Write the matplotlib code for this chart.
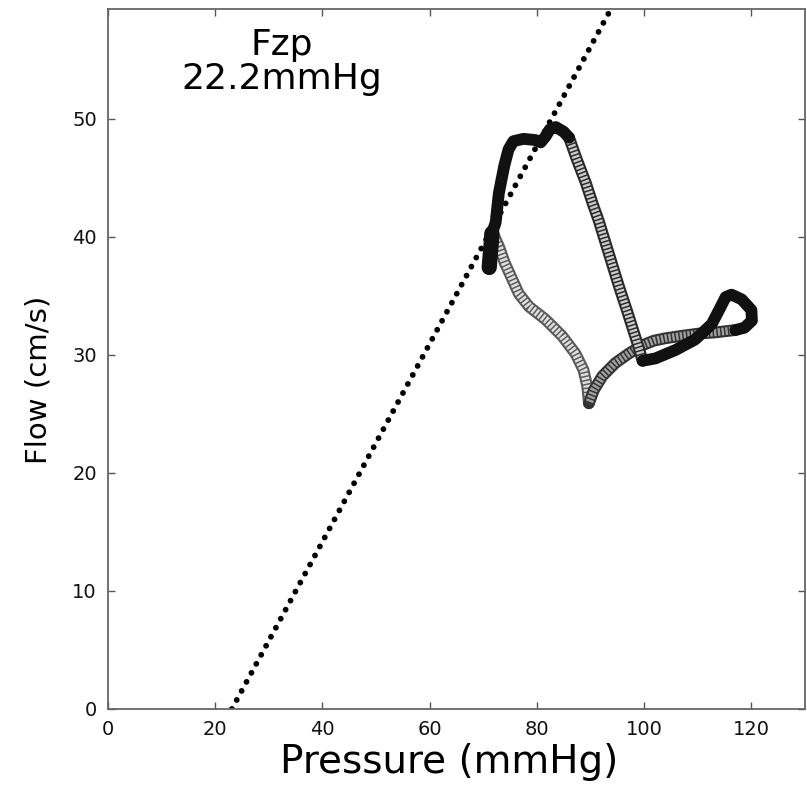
import matplotlib
matplotlib.use("Agg")
import matplotlib.pyplot as plt

# ---- data ----
# start cluster (dense / dark)
start_p = [71.1, 71.3, 71.5, 71.6]
start_f = [37.4, 38.5, 39.6, 40.3]
# upstroke from start cluster to systolic plateau (dense / dark)
up_p = [71.6, 72.3, 72.9, 73.9, 74.7, 75.6, 77.5, 79.7, 80.7, 81.6, 82.4, 83.5, 85.0, 86.0]
up_f = [40.3, 41.2, 43.7, 46.0, 47.4, 48.1, 48.3, 48.2, 48.0, 48.5, 49.1, 49.3, 48.9, 48.4]
# fast descent (striped)
down_p = [86.0, 87.4, 89.1, 90.4, 91.5, 93.4, 95.3, 96.9, 98.3, 99.2, 99.7]
down_f = [48.4, 46.6, 44.6, 42.8, 41.4, 38.6, 35.8, 33.6, 31.6, 30.3, 29.5]
# small right loop (dense / dark)
loop_p = [99.7, 102.1, 105.8, 109.5, 112.6, 114.2, 115.2, 116.3, 118.2, 120.0, 120.1, 118.7, 117.0]
loop_f = [29.5, 29.7, 30.4, 31.3, 32.6, 34.0, 34.9, 35.1, 34.7, 33.8, 32.9, 32.3, 32.1]
# return to the diastolic minimum (striped)
ret_p = [117.0, 113.2, 110.1, 106.8, 103.9, 101.8, 99.6, 97.1, 94.6, 92.2, 90.6, 89.7]
ret_f = [32.1, 31.9, 31.8, 31.6, 31.4, 31.2, 30.8, 30.1, 29.3, 28.2, 27.0, 25.9]
# rise back to start (light stripes)
back_p = [89.7, 89.4, 88.7, 87.2, 84.7, 81.6, 78.5, 76.6, 75.4, 74.0, 72.9, 72.0]
back_f = [25.9, 27.3, 28.7, 30.1, 31.6, 33.0, 34.1, 35.2, 36.4, 37.8, 39.2, 40.1]

# zero-flow pressure line
zfp_p = [23.1, 93.8]
zfp_f = [0.0, 59.3]

x_ticks = [0, 20, 40, 60, 80, 100, 120]
y_ticks = [0, 10, 20, 30, 40, 50]

title_text = "Fzp\n22.2mmHg"

# ---- figure ----
fig = plt.figure(figsize=(8.07, 7.85), dpi=100)
ax = fig.add_axes([108 / 807, 1 - 709 / 785, 697 / 807, 700 / 785])

ax.plot(zfp_p, zfp_f, color="black", lw=4.2, ls=(0, (0.01, 1.75)),
        dash_capstyle="round", zorder=1)


def solid(px, fy, lw=8.5):
    ax.plot(px, fy, color="#111111", lw=lw, solid_capstyle="round",
            solid_joinstyle="round", zorder=3)


def striped(px, fy, edge, inner, on, off):
    ax.plot(px, fy, color=edge, lw=8.5, solid_capstyle="round",
            solid_joinstyle="round", zorder=2)
    ax.plot(px, fy, color=inner, lw=5.5, ls=(0, (on, off)),
            dash_capstyle="butt", zorder=2)


striped(back_p, back_f, "#5a5a5a", "#e0e0e0", 0.32, 0.2)
striped(ret_p, ret_f, "#333333", "#a0a0a0", 0.3, 0.2)
striped(down_p, down_f, "#2a2a2a", "#cccccc", 0.3, 0.2)
solid(up_p, up_f)
solid(loop_p, loop_f)
solid(start_p, start_f, lw=11)

ax.set_xlim(0, 130)
ax.set_ylim(0, 59.3)
ax.set_xticks(x_ticks)
ax.set_yticks(y_ticks)
ax.tick_params(direction="in", top=True, right=True, length=5, width=1,
               color="#555555", labelsize=14, pad=8, labelcolor="#111111")
for s in ax.spines.values():
    s.set_color("#666666")
    s.set_linewidth(1.3)

ax.set_xlabel("Pressure (mmHg)", fontsize=28)
ax.xaxis.set_label_coords(0.49, -0.048)
ax.xaxis.label.set_va("top")
ax.set_ylabel("Flow (cm/s)", fontsize=21)
ax.yaxis.set_label_coords(-0.08, 0.47)

ax.text(0.25, 0.925, title_text, transform=ax.transAxes, ha="center",
        va="center", fontsize=26, linespacing=1.0)

fig.savefig("out.png", dpi=100)
